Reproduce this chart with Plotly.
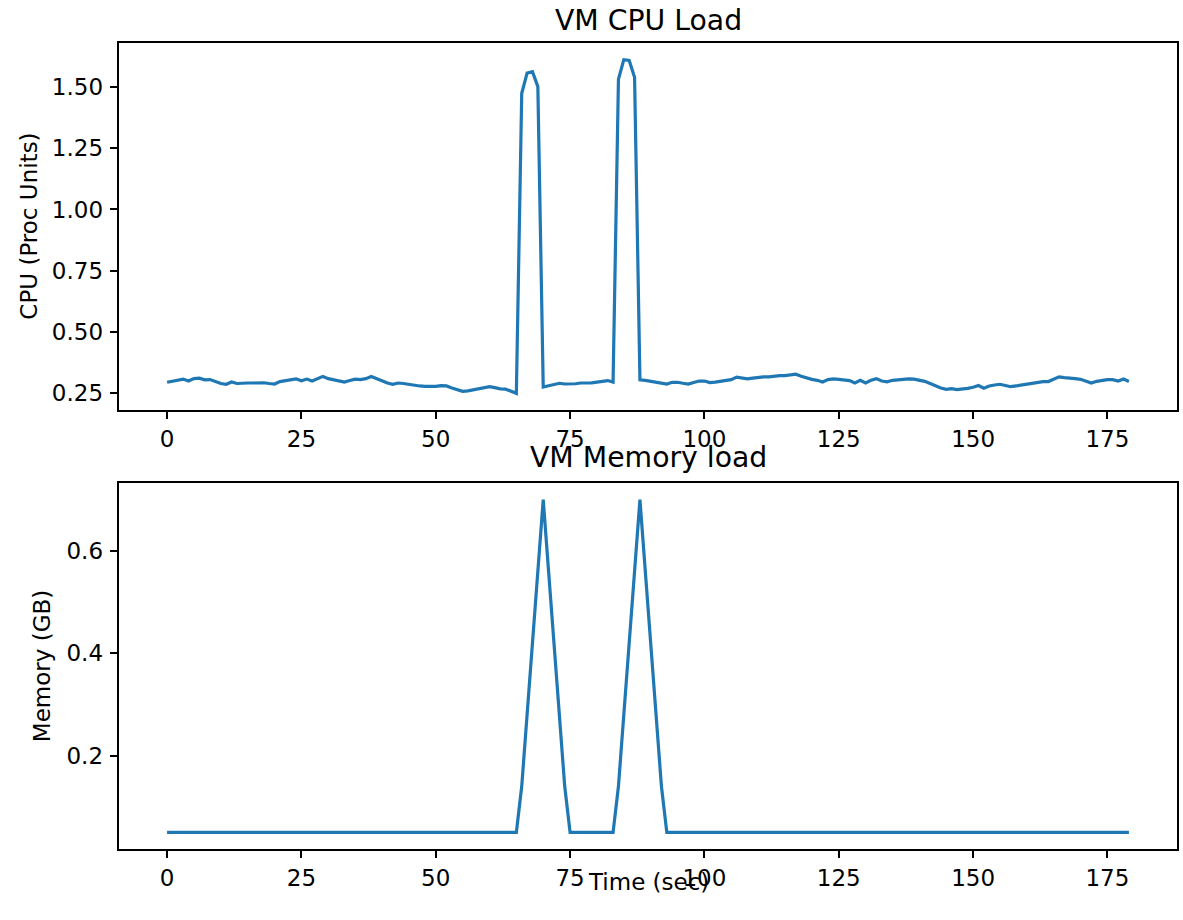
import plotly.graph_objects as go
from plotly.subplots import make_subplots

# ---- data ----
time_sec = list(range(180))

cpu_load = [
    0.295, 0.300, 0.306, 0.308, 0.300, 0.310, 0.312, 0.305, 0.306, 0.298,
    0.290, 0.287, 0.296, 0.290, 0.292, 0.292, 0.292, 0.294, 0.293, 0.290,
    0.288, 0.298, 0.302, 0.308, 0.309, 0.301, 0.308, 0.300, 0.308, 0.319,
    0.310, 0.305, 0.300, 0.296, 0.302, 0.308, 0.306, 0.310, 0.319, 0.310,
    0.300, 0.292, 0.287, 0.292, 0.290, 0.286, 0.283, 0.280, 0.278, 0.277,
    0.278, 0.281, 0.280, 0.272, 0.264, 0.258, 0.260, 0.264, 0.267, 0.270,
    0.277, 0.273, 0.268, 0.267, 0.260, 0.250, 1.474, 1.556, 1.562, 1.501,
    0.276, 0.280, 0.285, 0.291, 0.288, 0.288, 0.289, 0.292, 0.292, 0.293,
    0.296, 0.300, 0.302, 0.296, 1.531, 1.611, 1.608, 1.539, 0.305, 0.303,
    0.300, 0.294, 0.291, 0.288, 0.295, 0.295, 0.291, 0.288, 0.294, 0.300,
    0.300, 0.294, 0.296, 0.300, 0.305, 0.306, 0.316, 0.311, 0.309, 0.312,
    0.315, 0.317, 0.317, 0.320, 0.322, 0.322, 0.325, 0.328, 0.320, 0.312,
    0.307, 0.303, 0.296, 0.306, 0.309, 0.307, 0.306, 0.302, 0.292, 0.303,
    0.292, 0.303, 0.310, 0.300, 0.297, 0.303, 0.305, 0.308, 0.309, 0.308,
    0.305, 0.299, 0.290, 0.280, 0.272, 0.266, 0.269, 0.265, 0.266, 0.270,
    0.275, 0.282, 0.271, 0.280, 0.284, 0.287, 0.282, 0.277, 0.280, 0.284,
    0.288, 0.290, 0.295, 0.298, 0.298, 0.307, 0.317, 0.314, 0.313, 0.310,
    0.307, 0.300, 0.292, 0.299, 0.304, 0.306, 0.306, 0.300, 0.308, 0.298,
]

memory_gb = [
    0.05, 0.05, 0.05, 0.05, 0.05, 0.05, 0.05, 0.05, 0.05, 0.05,
    0.05, 0.05, 0.05, 0.05, 0.05, 0.05, 0.05, 0.05, 0.05, 0.05,
    0.05, 0.05, 0.05, 0.05, 0.05, 0.05, 0.05, 0.05, 0.05, 0.05,
    0.05, 0.05, 0.05, 0.05, 0.05, 0.05, 0.05, 0.05, 0.05, 0.05,
    0.05, 0.05, 0.05, 0.05, 0.05, 0.05, 0.05, 0.05, 0.05, 0.05,
    0.05, 0.05, 0.05, 0.05, 0.05, 0.05, 0.05, 0.05, 0.05, 0.05,
    0.05, 0.05, 0.05, 0.05, 0.05, 0.05, 0.14, 0.28, 0.42, 0.56,
    0.70, 0.56, 0.42, 0.28, 0.14, 0.05, 0.05, 0.05, 0.05, 0.05,
    0.05, 0.05, 0.05, 0.05, 0.14, 0.28, 0.42, 0.56, 0.70, 0.56,
    0.42, 0.28, 0.14, 0.05, 0.05, 0.05, 0.05, 0.05, 0.05, 0.05,
    0.05, 0.05, 0.05, 0.05, 0.05, 0.05, 0.05, 0.05, 0.05, 0.05,
    0.05, 0.05, 0.05, 0.05, 0.05, 0.05, 0.05, 0.05, 0.05, 0.05,
    0.05, 0.05, 0.05, 0.05, 0.05, 0.05, 0.05, 0.05, 0.05, 0.05,
    0.05, 0.05, 0.05, 0.05, 0.05, 0.05, 0.05, 0.05, 0.05, 0.05,
    0.05, 0.05, 0.05, 0.05, 0.05, 0.05, 0.05, 0.05, 0.05, 0.05,
    0.05, 0.05, 0.05, 0.05, 0.05, 0.05, 0.05, 0.05, 0.05, 0.05,
    0.05, 0.05, 0.05, 0.05, 0.05, 0.05, 0.05, 0.05, 0.05, 0.05,
    0.05, 0.05, 0.05, 0.05, 0.05, 0.05, 0.05, 0.05, 0.05, 0.05,
]

x_ticks = [0, 25, 50, 75, 100, 125, 150, 175]
cpu_ticks = [0.25, 0.50, 0.75, 1.00, 1.25, 1.50]
mem_ticks = [0.2, 0.4, 0.6]

assert len(cpu_load) == len(time_sec) == len(memory_gb)

# ---- style ----
FONT = "DejaVu Sans"
BLUE = "#1f77b4"
TICK_SIZE = 23
TITLE_SIZE = 28.3
W, H = 1183, 920
ML, MR, MT, MB = 119, 4, 43, 71
plot_h = H - MT - MB
plot_w = W - ML - MR


def py(pix):
    return (H - MB - pix) / plot_h


def px(pix):
    return (pix - ML) / plot_w


fig = make_subplots(rows=2, cols=1)

fig.add_trace(go.Scatter(x=time_sec, y=cpu_load, mode="lines",
                         line=dict(color=BLUE, width=3.2), showlegend=False),
              row=1, col=1)
fig.add_trace(go.Scatter(x=time_sec, y=memory_gb, mode="lines",
                         line=dict(color=BLUE, width=3.2), showlegend=False),
              row=2, col=1)


def span(lo, hi):
    m = (hi - lo) * 0.05
    return [lo - m, hi + m]


axis_common = dict(showline=True, mirror=True, linecolor="black", linewidth=1.7,
                   ticks="outside", ticklen=7.5, tickwidth=1.7, tickcolor="black",
                   showgrid=False, zeroline=False,
                   tickfont=dict(family=FONT, size=TICK_SIZE, color="black"))

xr = span(min(time_sec), max(time_sec))
fig.update_xaxes(**axis_common, range=xr, tickvals=x_ticks)
fig.update_yaxes(**axis_common, ticklabelstandoff=2)
fig.update_yaxes(range=span(min(cpu_load), max(cpu_load)), tickvals=cpu_ticks,
                 tickformat=".2f", domain=[py(410), 1.0], row=1, col=1)
fig.update_yaxes(range=span(min(memory_gb), max(memory_gb)), tickvals=mem_ticks,
                 tickformat=".1f", domain=[0.0, py(483)], row=2, col=1)

ann = [
    dict(text="VM CPU Load", x=0.5, y=py(20), size=TITLE_SIZE, angle=0),
    dict(text="VM Memory load", x=0.5, y=py(458), size=TITLE_SIZE, angle=0),
    dict(text="Time (sec)", x=0.5, y=py(882), size=TICK_SIZE, angle=0),
    dict(text="CPU (Proc Units)", x=px(28), y=py(226.5), size=TICK_SIZE, angle=-90),
    dict(text="Memory (GB)", x=px(42), y=py(666), size=TICK_SIZE, angle=-90),
]
for a in ann:
    fig.add_annotation(text=a["text"], x=a["x"], y=a["y"], xref="paper", yref="paper",
                       xanchor="center", yanchor="middle", showarrow=False,
                       textangle=a["angle"],
                       font=dict(family=FONT, size=a["size"], color="black"))

fig.update_layout(width=W, height=H, margin=dict(l=ML, r=MR, t=MT, b=MB),
                  plot_bgcolor="white", paper_bgcolor="white",
                  font=dict(family=FONT, color="black"), showlegend=False)

fig.write_html("out.html",
               config={"displayModeBar": False},
               post_script="document.body.style.margin='0';"
                           "document.documentElement.style.overflow='hidden';")
